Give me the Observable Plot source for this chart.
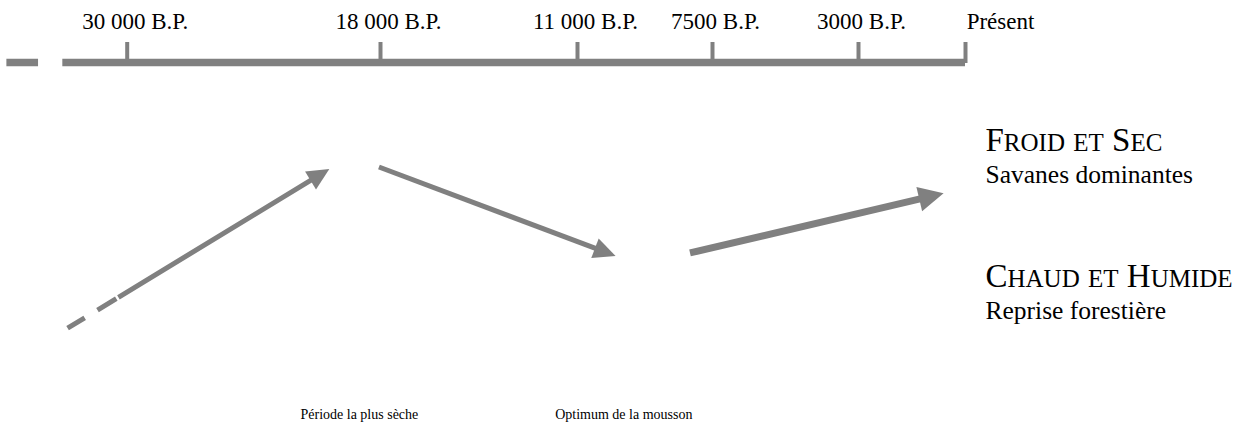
<!DOCTYPE html>
<html>
<head>
<meta charset="utf-8">
<script src="https://cdn.jsdelivr.net/npm/d3@7"></script>
<script src="https://cdn.jsdelivr.net/npm/@observablehq/plot@0.6"></script>
<style>
  html, body { margin: 0; padding: 0; background: #fff; }
  #chart svg { display: block; }
</style>
</head>
<body>
<div id="chart"></div>
<script>
// ---- Data ----
const periodLabels = ["30 000 B.P.", "18 000 B.P.", "11 000 B.P.", "7500 B.P.", "3000 B.P.", "Présent"];
const periodYears = [30000, 18000, 11000, 7500, 3000, 0];

// timeline bar pieces (years B.P.): a short stub before the main bar
const timelineStart = [35700, 33050];
const timelineEnd = [34200, 0];

// climate arrows: from (year, climate level) to (year, climate level); level 1 = froid et sec, 0 = chaud et humide
const arrowFromYear = [32800, 18050, 8070];
const arrowFromLevel = [-0.31, 0.877, 0.244];
const arrowToYear = [20400, 10000, 600];
const arrowToLevel = [0.862, 0.222, 0.683];

const climateNames = ["Froid et Sec", "Chaud et Humide"];
const vegetationNames = ["Savanes dominantes", "Reprise forestière"];
const climateLevels = [1, 0];

const eventNames = ["Période la plus sèche", "Optimum de la mousson"];
const eventYears = [19000, 9800];

// ---- Styles ----
const grey = "#808080";
const serif = "Liberation Serif, Times New Roman, Times, serif";
const arrowWidths = [5, 5, 7];
const headLengths = [22, 22, 25];
const headWidths = [21, 21, 25];
const arrowDashes = ["20 15 22 2.5 4000", null, null];
const capSize = 33, smallCapSize = 25;

// ---- Derived tables ----
const timeline = timelineStart.map((s, i) => ({start: s, end: timelineEnd[i]}));
const labelOf = new Map(periodYears.map((y, i) => [y, periodLabels[i]]));
const earlyTicks = periodYears.filter(y => y >= 11000);
const lateTicks = periodYears.filter(y => y < 11000 && y > 0);
const climates = climateNames.map((n, i) => ({name: n, veg: vegetationNames[i], level: climateLevels[i]}));
const events = eventNames.map((n, i) => ({name: n, year: eventYears[i]}));
const yTop = 1.65, yBottom = -1.03;

function arrowMark(index, scales) {
  const sx = scales.x || (scales.scales && scales.scales.x);
  const sy = scales.y || (scales.scales && scales.scales.y);
  const ns = "http://www.w3.org/2000/svg";
  const g = document.createElementNS(ns, "g");
  arrowFromYear.forEach((_, i) => {
    const x1 = sx(arrowFromYear[i]), y1 = sy(arrowFromLevel[i]);
    const x2 = sx(arrowToYear[i]), y2 = sy(arrowToLevel[i]);
    const dx = x2 - x1, dy = y2 - y1, L = Math.hypot(dx, dy);
    const ux = dx / L, uy = dy / L;
    const hl = headLengths[i], hw = headWidths[i] / 2;
    const bx = x2 - ux * hl, by = y2 - uy * hl;
    const line = document.createElementNS(ns, "line");
    line.setAttribute("x1", x1); line.setAttribute("y1", y1);
    line.setAttribute("x2", bx + ux * 2); line.setAttribute("y2", by + uy * 2);
    line.setAttribute("stroke", grey);
    line.setAttribute("stroke-width", arrowWidths[i]);
    if (arrowDashes[i]) line.setAttribute("stroke-dasharray", arrowDashes[i]);
    g.appendChild(line);
    const head = document.createElementNS(ns, "path");
    head.setAttribute("d", `M${x2},${y2}L${bx - uy * hw},${by + ux * hw}L${bx + uy * hw},${by - ux * hw}Z`);
    head.setAttribute("fill", grey);
    g.appendChild(head);
  });
  return g;
}

const labelAxis = (ticks, dx) => Plot.axisX(ticks, {anchor: "top", tickFormat: d => labelOf.get(d), tickSize: 0,
  tickPadding: 34, dx, fontSize: 23, fill: "black", label: null});

const chart = Plot.plot({
  width: 1243,
  height: 426,
  marginTop: 62,
  marginBottom: 0,
  marginLeft: 0,
  marginRight: 0,
  style: {fontFamily: serif, fontSize: "23px", color: "black", background: "white", overflow: "visible"},
  x: {type: "linear", domain: periodYears, range: [126.7, 380, 577, 712, 858, 965], label: null},
  y: {domain: [yBottom, yTop], label: null, axis: null},
  marks: [
    Plot.ruleY(timeline, {x1: "start", x2: "end", y: yTop, stroke: grey, strokeWidth: 7.5}),
    // tick marks
    Plot.axisX(periodYears, {anchor: "top", tickFormat: () => "", tickSize: 21, stroke: grey, strokeWidth: 4, label: null}),
    // tick labels
    labelAxis(earlyTicks, 8),
    labelAxis(lateTicks, 3),
    labelAxis([0], 35),
    arrowMark,
    Plot.text(climates, {x: 0, y: "level", text: "name", dx: 20, textAnchor: "start", lineAnchor: "bottom",
      fontSize: capSize, fill: "black", fontFamily: serif}),
    Plot.text(climates, {x: 0, y: "level", text: "veg", dx: 20, dy: 32, textAnchor: "start", lineAnchor: "bottom",
      fontSize: 25.5, fill: "black", fontFamily: serif}),
    Plot.text(events, {x: "year", text: "name", frameAnchor: "bottom", lineAnchor: "bottom", dy: -8,
      fontSize: 14, fill: "black", fontFamily: serif})
  ]
});

// small capitals for the climate names (capitals full size, other letters as smaller capitals)
const ns = "http://www.w3.org/2000/svg";
chart.querySelectorAll("text").forEach(t => {
  const s = t.textContent;
  if (!climateNames.includes(s)) return;
  t.textContent = "";
  const runs = [];
  for (const ch of s) {
    const small = ch !== ch.toUpperCase();
    const last = runs[runs.length - 1];
    if (last && last.small === small) last.text += ch.toUpperCase();
    else runs.push({small, text: ch.toUpperCase()});
  }
  runs.forEach(r => {
    const span = document.createElementNS(ns, "tspan");
    span.setAttribute("font-size", r.small ? smallCapSize : capSize);
    span.textContent = r.text;
    t.appendChild(span);
  });
});

document.getElementById("chart").appendChild(chart);
</script>
</body>
</html>
